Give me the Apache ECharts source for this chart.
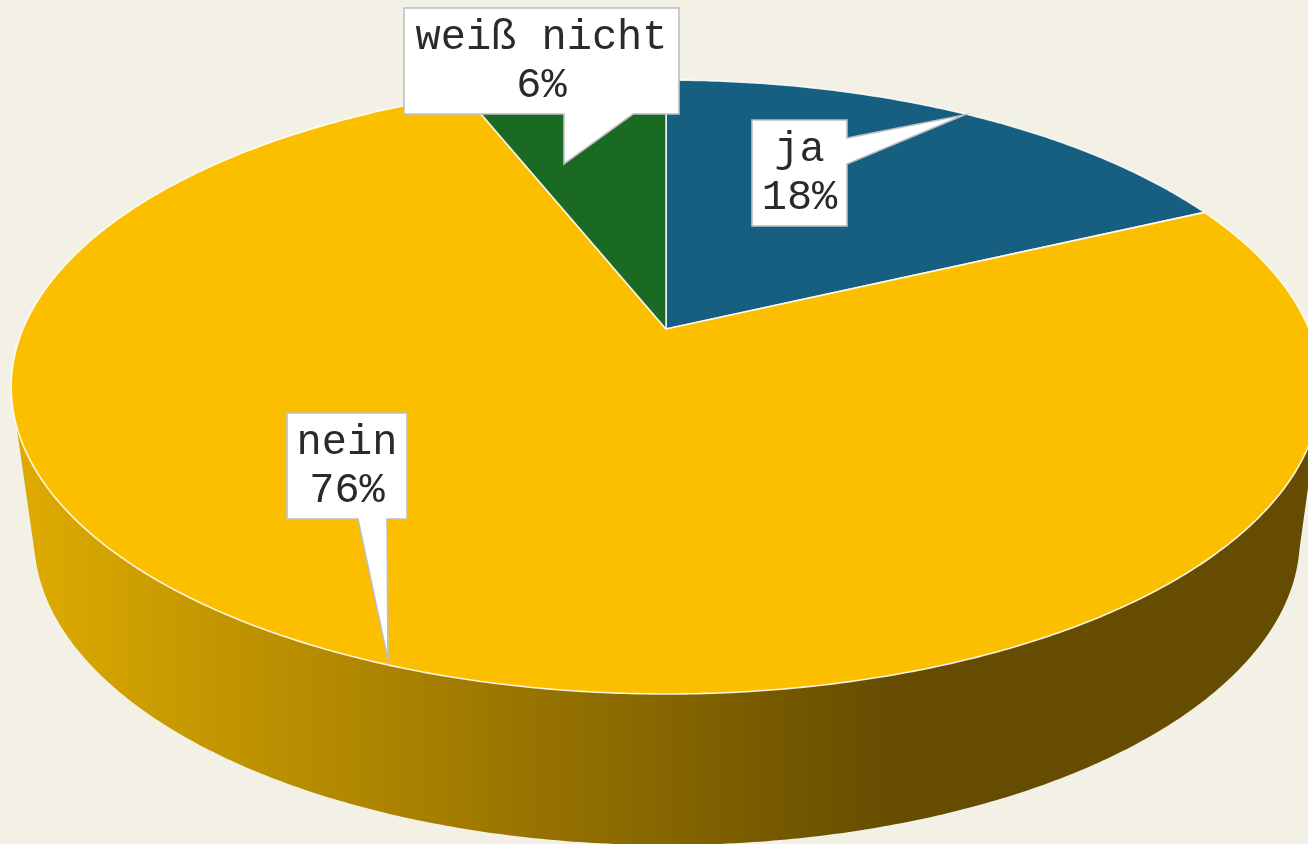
<!DOCTYPE html>
<html>
<head>
<meta charset="utf-8">
<style>html,body{margin:0;padding:0;background:#f3f0e6;overflow:hidden}#c{width:1308px;height:844px}</style>
<script src="https://cdn.jsdelivr.net/npm/echarts@6/dist/echarts.min.js"></script>
</head>
<body>
<div id="c"></div>
<script>
// Data
const categories = ['ja', 'nein', 'weiß nicht'];
const percentValues = [18, 76, 6];
// Styles
const sliceColors = ['#165f80', '#fcbf00', '#1a6a24'];
const wallStops = [
  ['#165f80', '#0a2c3c'],
  ['#dba900', '#654c00'],
  ['#1a6a24', '#0c3010']
];
// Layout: perspective projection of the disc (top face and base)
const topDisc = {cx: 666, cy: 329, a: 643, b: 296, k: 0.189};
const baseDisc = {cx: 667, cy: 480, a: 621.5, b: 296, k: 0.189};
const frontFrom = 106, frontTo = 252; // degrees clockwise from top where the wall is visible on the top rim
const baseOverrun = 3;                // base rim runs a little further, to its silhouette tangent
const gradFromX = 40, gradToX = 900;
const callouts = [
  {box: [752, 120, 847, 226], ptr: [[847, 138], [964, 115], [847, 164]], side: 'right'},
  {box: [287, 413, 407, 519], ptr: [[387, 519], [388, 660], [358, 519]], side: 'bottom'},
  {box: [404, 8, 679, 114], ptr: [[633, 114], [564, 164], [564, 114]], side: 'bottom'}
];

const total = percentValues.reduce((s, v) => s + v, 0);
function sliceRange(i) {
  let s = 0;
  for (let j = 0; j < i; j++) s += percentValues[j];
  return [s / total * 360, (s + percentValues[i]) / total * 360];
}
function project(d, deg) {
  const t = deg * Math.PI / 180, u = Math.sin(t), v = Math.cos(t), w = 1 + d.k * v;
  return [d.cx + d.a * u / w, d.cy - d.b * v / w];
}
function arc(d, from, to) {
  const pts = [], n = Math.max(2, Math.ceil(Math.abs(to - from) * 2));
  for (let i = 0; i <= n; i++) pts.push(project(d, from + (to - from) * i / n));
  return pts;
}

function renderWall(params, api) {
  const i = params.dataIndex, r = sliceRange(i);
  const from = Math.max(r[0], frontFrom), to = Math.min(r[1], frontTo);
  if (to <= from) return {type: 'group', children: []};
  const baseTo = to === frontTo ? to + baseOverrun : to;
  const baseFrom = from === frontFrom ? from - baseOverrun : from;
  const points = arc(topDisc, from, to).concat(arc(baseDisc, baseTo, baseFrom));
  return {
    type: 'polygon',
    shape: {points},
    style: {
      fill: new echarts.graphic.LinearGradient(gradFromX, 0, gradToX, 0, [
        {offset: 0, color: wallStops[i][0]},
        {offset: 1, color: wallStops[i][1]}
      ], true),
      stroke: null
    }
  };
}
function renderTop(params, api) {
  const i = params.dataIndex, r = sliceRange(i);
  const points = [[topDisc.cx, topDisc.cy]].concat(arc(topDisc, r[0], r[1]));
  return {
    type: 'polygon',
    shape: {points},
    style: {fill: sliceColors[i], stroke: 'rgba(255,255,255,0.85)', lineWidth: 1.6, lineJoin: 'round'}
  };
}
function renderCallout(params, api) {
  const i = params.dataIndex, c = callouts[i], b = c.box;
  let pts;
  if (c.side === 'right') {
    pts = [[b[0], b[1]], [b[2], b[1]], ...c.ptr, [b[2], b[3]], [b[0], b[3]]];
  } else {
    pts = [[b[0], b[1]], [b[2], b[1]], [b[2], b[3]], ...c.ptr, [b[0], b[3]]];
  }
  return {
    type: 'group',
    children: [
      {type: 'polygon', shape: {points: pts},
       style: {fill: '#ffffff', stroke: '#bdbfc4', lineWidth: 1.6, lineJoin: 'miter'}},
      {type: 'text', x: (b[0] + b[2]) / 2, y: (b[1] + b[3]) / 2 + 1,
       style: {
         text: categories[i] + '\n' + api.value(0) + '%',
         font: '42px "Liberation Mono", monospace',
         lineHeight: 48, fill: '#2a2a2a', align: 'center', verticalAlign: 'middle'
       }}
    ]
  };
}

const chart = echarts.init(document.getElementById('c'), null, {renderer: 'canvas', width: 1308, height: 844});
const seriesData = percentValues.map((v, i) => ({name: categories[i], value: [v]}));
const common = {type: 'custom', coordinateSystem: 'none', data: seriesData, silent: true, animation: false, clip: false};
chart.setOption({
  backgroundColor: '#f3f0e6',
  animation: false,
  series: [
    {...common, renderItem: renderWall, z: 1},
    {...common, renderItem: renderTop, z: 2},
    {...common, renderItem: renderCallout, z: 3}
  ]
});
</script>
</body>
</html>
